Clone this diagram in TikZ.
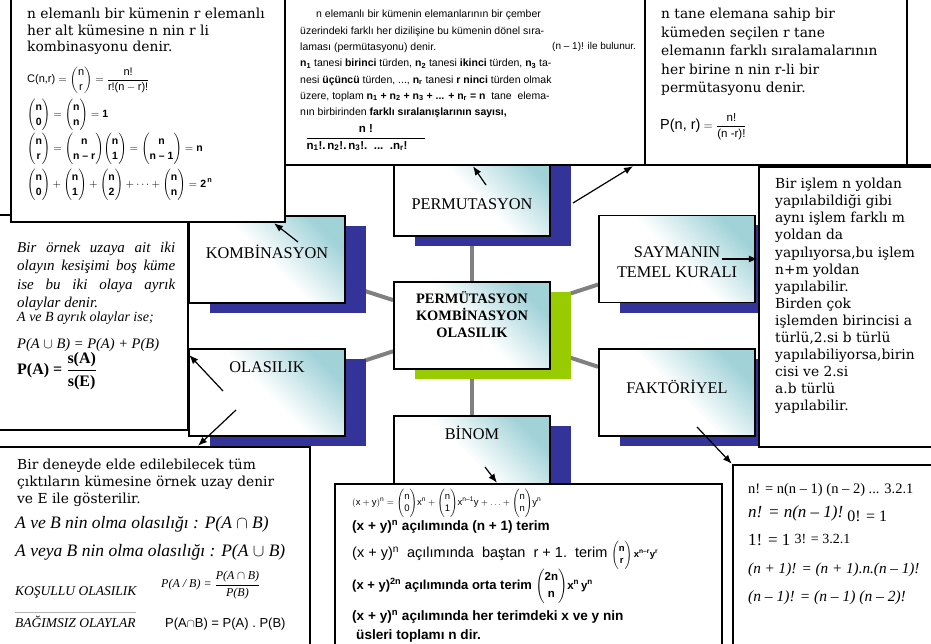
\documentclass[tikz,border=0pt]{standalone}
\usepackage{amsmath,amssymb}
\usepackage{fontspec}
\setmainfont{Liberation Serif}
\setsansfont{Liberation Sans}
\newfontfamily\wideserif{DejaVu Serif}
\usetikzlibrary{arrows.meta,positioning,fit,calc,shadows,backgrounds}

\definecolor{navyshade}{RGB}{51,51,153}
\definecolor{limeshade}{RGB}{153,204,0}
\definecolor{tealtop}{RGB}{160,210,216}
\definecolor{spokegray}{RGB}{128,128,128}

% binomial with text-font entries
\newcommand{\bnm}[2]{\dbinom{\text{#1}}{\text{#2}}}

\begin{document}
\begin{tikzpicture}[
  x=1pt, y=-1pt,
  topic/.style={draw, line width=1.8pt, minimum width=156pt, minimum height=87pt,
                top color=tealtop, bottom color=white, middle color=white,
                shading angle=-45,
                drop shadow={shadow xshift=21pt, shadow yshift=-10pt,
                             fill=#1, opacity=1}},
  topic/.default=navyshade,
  lbl/.style={font=\fontsize{16.3}{20}\selectfont, align=center, inner sep=0pt},
  tbox/.style={draw, line width=2.4pt, fill=white, inner sep=0pt},
  wide/.style={font=\wideserif\fontsize{13.8}{#1}\selectfont, align=left,
               inner sep=0pt, anchor=north west},
  wide/.default=17.1,
  eqrow/.style={inner sep=0pt, anchor=west},
  arr/.style={-{Latex[length=9pt,width=7pt]}, line width=1.2pt},
  spoke/.style={draw=spokegray, line width=4pt}
]
\useasboundingbox (0,0) rectangle (931,644);

% topic boxes round the hub
\node[topic=limeshade] (hub) at (472,325.5) {};
\node[topic] (komb)  at (267,259.5) {};
\node[topic] (perm)  at (472,192.5) {};
\node[topic] (olas)  at (267,392.5) {};
\node[topic] (binom) at (472,459.5) {};
\node[topic] (sayma) at (677,259)   {};
\node[topic] (fakt)  at (677,392.5) {};

\begin{scope}[on background layer]
  \foreach \t in {komb,perm,olas,binom,sayma,fakt}
    \draw[spoke] (hub) -- (\t);
\end{scope}

\node[lbl, font=\bfseries\fontsize{14.4}{17}\selectfont] (hubLbl) at ([yshift=10.5pt]hub.center)
  {PERMÜTASYON\\KOMBİNASYON\\OLASILIK};
\node[lbl] (kombLbl)  at ([yshift=7.5pt]komb.center)   {KOMBİNASYON};
\node[lbl] (permLbl)  at ([yshift=-11.5pt]perm.center) {PERMUTASYON};
\node[lbl] (olasLbl)  at ([yshift=25.5pt]olas.center)  {OLASILIK};
\node[lbl] (binomLbl) at ([yshift=26.5pt]binom.center) {BİNOM};
\node[lbl] (saymaLbl) at ([yshift=-3pt]sayma.center)   {SAYMANIN\\TEMEL KURALI};
\node[lbl] (faktLbl)  at ([yshift=5.5pt]fakt.center)   {FAKTÖRİYEL};

% text boxes
\node[tbox, fit={(-10,215) (188,430)}]  (olasBox)  {};
\node[tbox, fit={(11,-10) (285,222)}]   (kombBox)  {};
\node[tbox, fit={(285,-10) (645,165)}]  (permBox)  {};
\node[tbox, fit={(645,-10) (907,165)}]  (perm2Box) {};
\draw[tbox] (907,-10) rectangle (945,165);
\node[tbox, fit={(759,167) (945,447)}]  (saymaBox) {};
\node[tbox, fit={(-10,447) (310,655)}]  (olas2Box) {};
\node[tbox, fit={(335,484) (722,655)}]  (binomBox) {};
\node[tbox, fit={(733,465) (945,655)}]  (faktBox)  {};

% kombinasyon
\node[wide=16.5] (kombTxt) at (27,8)
  {n elemanlı bir kümenin r elemanlı\\her alt kümesine n nin r li\\kombinasyonu denir.};
\node[eqrow, font=\sffamily\fontsize{11}{13}\selectfont] (kombEqA) at (27,80)
  {$\text{C(n,r)}=\bnm{n}{r}=\dfrac{\text{n!}}{\text{r!(n}-\text{r)!}}$};
\node[eqrow, font=\sffamily\bfseries\fontsize{10.5}{12}\selectfont] (kombEqB) at (27,115)
  {$\bnm{n}{0}=\bnm{n}{n}=\text{1}$};
\node[eqrow, font=\sffamily\bfseries\fontsize{10.5}{12}\selectfont] (kombEqC) at (27,149)
  {$\bnm{n}{r}=\bnm{n}{n – r}\bnm{n}{1}=\bnm{n}{n – 1}=\text{n}$};
\node[eqrow, font=\sffamily\bfseries\fontsize{10.5}{12}\selectfont] (kombEqD) at (27,185)
  {$\bnm{n}{0}+\bnm{n}{1}+\bnm{n}{2}+\cdots+\bnm{n}{n}=\text{2}^{\,\text{n}}$};

% dönel ve tekrarlı permütasyon
\node[anchor=north west, inner sep=0pt, align=left,
      font=\sffamily\fontsize{10.5}{16.3}\selectfont] (permTxt) at (300,10)
  {\hspace*{16pt}n elemanlı bir kümenin elemanlarının bir çember\\
   üzerindeki farklı her dizilişine bu kümenin dönel sıra-\\
   laması (permütasyonu) denir.\\
   \textbf{n\textsubscript{1}} tanesi \textbf{birinci} türden, \textbf{n\textsubscript{2}} tanesi \textbf{ikinci} türden, \textbf{n\textsubscript{3}} ta-\\
   nesi \textbf{üçüncü} türden, ..., \textbf{n\textsubscript{r}} tanesi \textbf{r ninci} türden olmak\\
   üzere, toplam \textbf{n\textsubscript{1} + n\textsubscript{2} + n\textsubscript{3} + ... + n\textsubscript{r} = n}\ \ tane\ \ elema-\\
   nın birbirinden \textbf{farklı sıralanışlarının sayısı,}};
\node[eqrow, font=\sffamily\fontsize{10}{12}\selectfont] (permRule) at (552,47) {(n – 1)! ile bulunur.};
\node[inner sep=0pt, font=\sffamily\fontsize{11.5}{13}\selectfont] (permFrac) at (366,138)
  {$\dfrac{\textbf{n !}}{\textbf{n\textsubscript{1}!.\,n\textsubscript{2}!.\,n\textsubscript{3}!.\ \ ...\ \ .n\textsubscript{r}!}\hspace*{18pt}}$};

% permütasyon tanımı
\node[wide=18.5] (perm2Txt) at (661,8)
  {n tane elemana sahip bir\\kümeden seçilen r tane\\elemanın farklı sıralamalarının\\her birine n nin r-li bir\\permütasyonu denir.};
\node[eqrow, font=\sffamily\fontsize{11.5}{13}\selectfont] (perm2Eq) at (660,127)
  {{\fontsize{14.5}{16}\selectfont P(n,\ r)} $=\dfrac{\text{n!}}{\text{(n -r)!}}$};

% ayrık olaylar
\node[anchor=north west, inner sep=0pt, text width=158pt, align=justify,
      font=\itshape\fontsize{15}{18.3}\selectfont] (olasTxt) at (17,242)
  {Bir örnek uzaya ait iki\linebreak olayın kesişimi boş küme\linebreak ise bu iki olaya ayrık\linebreak olaylar denir.};
\node[eqrow, font=\itshape\fontsize{14}{16}\selectfont] (olasEqA) at (17,318) {A ve B ayrık olaylar ise;};
\node[eqrow, font=\itshape\fontsize{14.5}{16}\selectfont] (olasEqB) at (17,345) {P(A $\cup$ B) = P(A) + P(B)};
\node[eqrow, font=\bfseries\fontsize{16}{19}\selectfont] (olasEqC) at (17,371)
  {P(A) = $\dfrac{\text{s(A)}}{\text{s(E)}}$};

% sayma
\node[wide] (saymaTxt) at (775,178)
  {Bir işlem n yoldan\\yapılabildiği gibi\\aynı işlem farklı m\\yoldan da\\yapılıyorsa,bu işlem\\n+m yoldan\\yapılabilir.\\Birden çok\\işlemden birincisi a\\türlü,2.si b türlü\\yapılabiliyorsa,birin\\cisi ve 2.si\\a.b türlü\\yapılabilir.};

% olasılık
\node[wide=17] (olas2Txt) at (17,459)
  {Bir deneyde elde edilebilecek tüm\\çıktıların kümesine örnek uzay denir\\ve E ile gösterilir.};
\node[anchor=north west, inner sep=0pt, align=left,
      font=\itshape\fontsize{17.5}{28}\selectfont] (olas2Int) at (15,516)
  {A ve B nin olma olasılığı : P(A $\cap$ B)\\A veya B nin olma olasılığı : P(A $\cup$ B)};
\node[inner sep=0pt, anchor=base west, font=\itshape\fontsize{13.5}{16}\selectfont] (kosulTxt) at (15,595) {KOŞULLU OLASILIK};
\node[eqrow, font=\itshape\fontsize{12}{14}\selectfont] (kosulEq) at (161,585)
  {P(A / B) = $\dfrac{\text{P(A}\cap\text{B)}}{\text{P(B)}}$};
\node[inner sep=0pt, anchor=base west, font=\itshape\fontsize{13.5}{16}\selectfont] (bagTxt) at (15,627) {BAĞIMSIZ OLAYLAR};
\node[inner sep=0pt, anchor=base west, font=\sffamily\fontsize{13}{15}\selectfont] (bagEq) at (165,627) {P(A$\cap$B) = P(A) . P(B)};
\draw[gray!60, line width=1.2pt] ([yshift=3pt]bagTxt.north west) -- ([yshift=3pt]bagTxt.north east);

% binom
\node[eqrow, font=\sffamily\fontsize{9.5}{11}\selectfont] (binomR1) at (352,503)
  {$(\text{x}+\text{y})^{\text{n}}=\bnm{n}{0}\text{x}^{\text{n}}+\bnm{n}{1}\text{x}^{\text{n–1}}\text{y}+\ldots+\bnm{n}{n}\text{y}^{\text{n}}$};
\node[eqrow, font=\sffamily\bfseries\fontsize{13.6}{16}\selectfont] (binomR2) at (352,527)
  {(x + y)\textsuperscript{n} açılımında (n + 1) terim};
\node[eqrow, font=\sffamily\fontsize{14.5}{16}\selectfont] (binomR3) at (352,555)
  {(x\ +\ y)\textsuperscript{n}\ \ açılımında\ \ baştan\ \ r\ +\ 1.\ \ terim\ {\bfseries\fontsize{9.5}{11}\selectfont$\bnm{n}{r}\,\text{x}^{\text{n–r}}\text{y}^{\text{r}}$}};
\node[eqrow, font=\sffamily\bfseries\fontsize{13}{15}\selectfont] (binomR4) at (352,586)
  {(x + y)\textsuperscript{2n} açılımında orta terim {\fontsize{11.5}{13}\selectfont$\bnm{2n}{n}\text{x}^{\text{n}}\,\text{y}^{\text{n}}$}};
\node[eqrow, font=\sffamily\bfseries\fontsize{13.6}{16}\selectfont] (binomR5) at (352,617)
  {(x + y)\textsuperscript{n} açılımında her terimdeki x ve y nin};
\node[eqrow, font=\sffamily\bfseries\fontsize{13.6}{16}\selectfont] (binomR6) at (356,636)
  {üsleri toplamı n dir.};

% faktöriyel
\node[eqrow, font=\fontsize{14.5}{16}\selectfont] (faktR1) at (748,490) {n! = n(n – 1) (n – 2) ... 3.2.1};
\node[eqrow, font=\fontsize{17}{19}\selectfont] (faktR2) at (748,514)
  {\textit{n! = n(n – 1)!}\ \raisebox{-4pt}{\fontsize{16}{18}\selectfont 0! = 1}};
\node[eqrow, font=\fontsize{17}{19}\selectfont] (faktR3) at (748,540)
  {1! = 1\ \raisebox{2pt}{\fontsize{14}{16}\selectfont 3! = 3.2.1}};
\node[eqrow, font=\itshape\fontsize{15.2}{18}\selectfont] (faktR4) at (748,570) {(n + 1)! = (n + 1).n.(n – 1)!};
\node[eqrow, font=\itshape\fontsize{15.5}{18}\selectfont] (faktR5) at (748,598) {(n – 1)! = (n – 1) (n – 2)!};

% arrows from the topics to their notes
\coordinate (kombTail)  at ([shift={(31,-17.5)}]komb.center);
\coordinate (permTail)  at ([shift={(14,-7.5)}]perm.center);
\coordinate (perm2Tail) at ([shift={(101,10.5)}]perm.center);
\coordinate (saymaTail) at ([shift={(45,0)}]sayma.center);
\coordinate (faktTail)  at ([shift={(20,34.5)}]fakt.center);
\coordinate (olasTail)  at ([shift={(-44,-1.5)}]olas.center);
\coordinate (olas2Tail) at ([shift={(-31,17.5)}]olas.center);
\coordinate (binomTail) at ([shift={(13,7.5)}]binom.center);

\draw[arr] (kombTail)  -- ([xshift=126pt]kombBox.south);
\draw[arr] (permTail)  -- ([xshift=8pt]permBox.south);
\draw[arr] (perm2Tail) -- ([xshift=-143pt]perm2Box.south);
\draw[arr] (saymaTail) -- (saymaTail -| saymaBox.west);
\draw[arr] (faktTail)  -- (faktBox.north west);
\draw[arr] (olasTail)  -- ([yshift=-32.5pt]olasBox.east);
\draw[arr] (olas2Tail) -- ([xshift=48pt]olas2Box.north);
\draw[arr] (binomTail) -- ([xshift=-31.5pt]binomBox.north);
\end{tikzpicture}
\end{document}
